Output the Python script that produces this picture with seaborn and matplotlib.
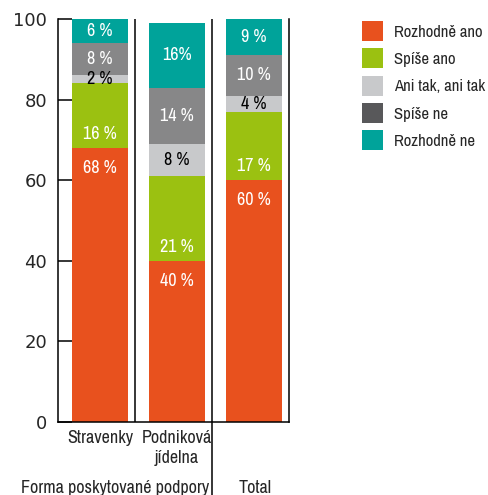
import matplotlib
matplotlib.use("Agg")
import matplotlib.pyplot as plt
import numpy as np
import seaborn as sns
from matplotlib import font_manager
from matplotlib.lines import Line2D
from matplotlib.patches import Patch

categories = ["Stravenky", "Podniková\njídelna", "Total"]
tick_labels = ["Stravenky", "Podniková\njídelna", ""]
answers = ["Rozhodně ano", "Spíše ano", "Ani tak, ani tak", "Spíše ne", "Rozhodně ne"]
rozhodne_ano = [68, 40, 60]
spise_ano = [16, 21, 17]
ani_tak = [2, 8, 4]
spise_ne = [8, 14, 10]
rozhodne_ne = [6, 16, 9]
value_labels = [
    ["68 %", "40 %", "60 %"],
    ["16 %", "21 %", "17 %"],
    ["2 %", "8 %", "4 %"],
    ["8 %", "14 %", "10 %"],
    ["6 %", "16%", "9 %"],
]

bar_colors = ["#E8511E", "#9BC111", "#C8C9CB", "#878788", "#00A39A"]
legend_colors = ["#E8511E", "#9BC111", "#C8C9CB", "#58585A", "#00A39A"]
label_colors = ["white", "white", "black", "white", "white"]

sns.set_style("white")

# pick a narrow font if one is installed
fonts = font_manager.fontManager.ttflist
narrow = [f.name for f in fonts if "Narrow" in f.name or "Condensed" in f.name]
dejavu_cond = [f for f in fonts if f.name == "DejaVu Sans" and f.stretch == "condensed"]
if narrow:
    plt.rcParams["font.family"] = [sorted(narrow)[0], "DejaVu Sans"]
    scale = 1.0
else:
    plt.rcParams["font.family"] = ["DejaVu Sans"]
    plt.rcParams["font.stretch"] = "condensed"
    scale = 0.85 if dejavu_cond else 0.75

series = np.array([rozhodne_ano, spise_ano, ani_tak, spise_ne, rozhodne_ne], dtype=float)
tops = series.cumsum(axis=0)

fig = plt.figure(figsize=(4.89, 4.95), dpi=100)
ax = fig.add_axes([58 / 489, 73 / 495, 231 / 489, 403 / 495])

# stacked bars: draw the tallest cumulative layer first
for i in range(len(answers) - 1, -1, -1):
    sns.barplot(x=categories, y=tops[i], color=bar_colors[i], saturation=1,
                width=0.727, ax=ax, order=categories, linewidth=0, edgecolor="none")

for i in range(len(answers)):
    bottoms = tops[i] - series[i]
    for j in range(len(categories)):
        if i == 0:
            ypos = tops[i][j] - 5
        elif i == 1:
            ypos = bottoms[j] + 3.5
        else:
            ypos = bottoms[j] + series[i][j] / 2
        ax.text(j, ypos, value_labels[i][j], ha="center", va="center",
                color=label_colors[i], fontsize=13 * scale)

ax.set_xlim(-0.545, 2.455)
ax.set_ylim(0, 100)
ax.set_yticks(range(0, 101, 20))
ax.set_xticks(range(len(categories)))
ax.set_xticklabels(tick_labels, fontsize=13 * scale, linespacing=1.25)
ax.tick_params(axis="x", length=0, pad=6)
ax.tick_params(axis="y", left=True, direction="in", length=10, width=1.1, pad=8,
               labelsize=13, color="black")
for label in ax.get_yticklabels():
    label.set_family("DejaVu Sans")
    label.set_stretch("normal")
ax.set_xlabel("")
ax.set_ylabel("")
for side in ["left", "bottom", "right"]:
    ax.spines[side].set_color("black")
    ax.spines[side].set_linewidth(1.1)
ax.spines["top"].set_visible(False)
for xline in [0.455, 1.455]:
    ax.axvline(xline, color="black", lw=1.1)

fig.add_artist(Line2D([212.5 / 489, 212.5 / 489], [0, 73 / 495], color="black", lw=1.1))
fig.text(115 / 489, 7 / 495, "Forma poskytované podpory", ha="center", va="center",
         fontsize=13 * scale)
fig.text(255 / 489, 7 / 495, "Total", ha="center", va="center", fontsize=13 * scale)

handles = [Patch(facecolor=c, edgecolor="none") for c in legend_colors]
fig.legend(handles, answers, loc="upper left", bbox_to_anchor=(362 / 489, 1 - 21 / 495),
           frameon=False, fontsize=12 * scale, handlelength=1.26, handleheight=1.47,
           labelspacing=0.44, handletextpad=0.65, borderpad=0, borderaxespad=0)

fig.savefig("out.png", dpi=100)
